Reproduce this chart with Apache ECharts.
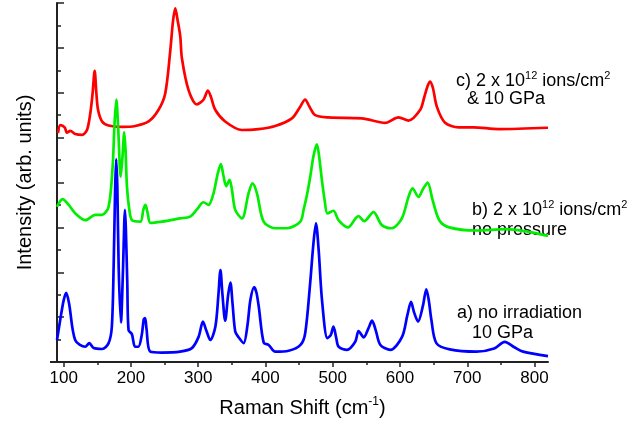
<!DOCTYPE html>
<html>
<head>
<meta charset="utf-8">
<script src="https://cdn.jsdelivr.net/npm/echarts@6/dist/echarts.min.js"></script>
<style>
  html, body { margin: 0; padding: 0; background: #fff; }
  #chart { width: 640px; height: 428px; }
</style>
</head>
<body>
<div id="chart"></div>
<script>
// x tick labels
const xTicks = [100, 200, 300, 400, 500, 600, 700, 800];
const xMinorTicks = [150, 250, 350, 450, 550, 650, 750];

// a) no irradiation, 10 GPa (blue)
const shiftA = [90, 96, 100, 103.7, 108, 117, 132, 138, 144.6, 157, 166.7, 171.5, 174.2, 176.5, 178, 179.7, 181.7, 185, 188.2, 190, 191, 192.3, 194.5, 196.4, 201.4, 206, 211, 216, 219, 221, 223, 228.6, 246, 273, 290.5, 300.5, 307, 312, 318, 325.5, 330, 333, 336, 340, 344.5, 347.8, 351, 355, 360, 367.5, 373, 377.5, 383, 386.5, 390, 397.3, 404.7, 414.6, 434.4, 452, 459, 466.4, 471, 475, 479, 484, 492, 497, 501, 505, 508.6, 521, 533.4, 538.4, 546, 553, 558.4, 564, 570.8, 585.6, 603, 611, 616.4, 621, 626.8, 634, 639.1, 643, 646.6, 654, 674, 713.6, 740, 755.7, 770, 783, 820];
const intensityA = [0.49, 1.05, 1.38, 1.54, 1.3, 0.49, 0.34, 0.42, 0.31, 0.29, 0.42, 0.78, 2.12, 3.9, 4.52, 3.9, 2.1, 0.88, 2.1, 3.1, 3.39, 3.0, 1.76, 0.71, 0.62, 0.34, 0.34, 0.6, 0.95, 0.98, 0.75, 0.23, 0.21, 0.23, 0.31, 0.56, 0.9, 0.7, 0.49, 0.79, 1.5, 2.05, 1.5, 0.92, 1.5, 1.77, 1.3, 0.68, 0.55, 0.42, 0.8, 1.38, 1.67, 1.55, 1.23, 0.43, 0.38, 0.23, 0.25, 0.38, 0.64, 1.76, 2.6, 3.09, 2.5, 1.38, 0.53, 0.6, 0.79, 0.55, 0.34, 0.27, 0.45, 0.69, 0.55, 0.75, 0.92, 0.7, 0.38, 0.27, 0.56, 1.05, 1.34, 1.1, 0.9, 1.25, 1.62, 1.35, 0.94, 0.42, 0.28, 0.23, 0.3, 0.45, 0.33, 0.23, 0.13];

// b) 2 x 10^12 ions/cm^2, no pressure (green)
const shiftB = [90, 98.4, 107.4, 117.3, 132.2, 147, 157, 166.7, 172.7, 175.5, 178.2, 181, 184.7, 187.5, 190, 192, 194, 197.5, 201.6, 214, 218.5, 221.5, 225, 228.9, 246, 273, 288, 298, 307.8, 315.2, 322.7, 329, 333.6, 337.5, 341.6, 346.5, 350, 355, 365, 374.8, 380.7, 387.3, 397.2, 414.6, 432, 451.8, 456.6, 462, 466.5, 471.5, 476.4, 480, 483.8, 488, 492.2, 501, 508.5, 522.4, 538.2, 546.7, 560.5, 573, 587.8, 602.7, 612.6, 618.6, 627.4, 634, 641, 648.4, 658.4, 673.2, 712.9, 757.5, 820];
const intensityB = [3.46, 3.63, 3.5, 3.31, 3.16, 3.28, 3.28, 3.46, 4.35, 5.3, 5.85, 5.2, 4.13, 4.6, 5.12, 4.7, 3.91, 3.4, 3.16, 3.13, 3.4, 3.5, 3.3, 3.1, 3.13, 3.2, 3.24, 3.4, 3.56, 3.5, 3.76, 4.2, 4.41, 4.15, 3.92, 4.06, 3.85, 3.39, 3.2, 3.76, 3.98, 3.76, 3.13, 2.98, 2.98, 3.13, 3.39, 3.75, 4.13, 4.6, 4.85, 4.55, 4.06, 3.6, 3.31, 3.37, 3.16, 3.0, 3.25, 3.14, 3.34, 3.05, 2.98, 3.2, 3.68, 3.87, 3.68, 3.85, 4.0, 3.61, 3.16, 3.0, 2.93, 2.96, 2.81];

// c) 2 x 10^12 ions/cm^2 & 10 GPa (red)
const shiftC = [91.5, 95, 101.4, 104.8, 109.8, 117.2, 127.2, 134.6, 139.5, 143, 146, 148.5, 151, 157, 166.7, 186.6, 206.4, 226.2, 241, 251, 258.5, 262.5, 265.8, 269.5, 273.3, 275.7, 285.6, 298, 308, 314.3, 319, 325.2, 340, 364.9, 389.6, 414.4, 439.2, 451.6, 459, 465, 474, 493.7, 543.4, 578, 597.8, 612.6, 630, 636, 641, 644.8, 649, 654.7, 667, 686.9, 709, 746.3, 820];
const intensityC = [5.1, 5.28, 5.23, 5.11, 5.15, 5.08, 5.06, 5.17, 5.54, 6.0, 6.49, 6.0, 5.62, 5.36, 5.27, 5.24, 5.26, 5.36, 5.62, 5.99, 6.95, 7.6, 7.88, 7.6, 7.25, 6.77, 6.06, 5.74, 5.85, 6.05, 5.9, 5.62, 5.36, 5.17, 5.19, 5.26, 5.43, 5.69, 5.85, 5.7, 5.5, 5.45, 5.43, 5.33, 5.45, 5.38, 5.62, 5.9, 6.15, 6.25, 6.1, 5.69, 5.33, 5.23, 5.23, 5.19, 5.22];

function zip(xs, ys) { return xs.map((x, i) => [x, ys[i]]); }

const FONT = '"Liberation Sans", Arial, sans-serif';
const chart = echarts.init(document.getElementById('chart'), null, { renderer: 'canvas' });

const annot = (x, y, text) => ({
  type: 'text', left: x, top: y,
  style: {
    text: text, fill: '#000', font: '18px ' + FONT,
    textVerticalAlign: 'middle',
    rich: {
      n: { fontSize: 18, fontFamily: FONT, fill: '#000', lineHeight: 22 },
      s: { fontSize: 11, fontFamily: FONT, fill: '#000', lineHeight: 11, verticalAlign: 'top' }
    }
  }
});

const option = {
  animation: false,
  backgroundColor: '#fff',
  grid: { left: 57, right: 92, top: 3, bottom: 66 },
  xAxis: [{
    type: 'value', min: 90, max: 820,
    name: '{n|Raman Shift (cm}{s|-1}{n|)}',
    nameLocation: 'middle', nameGap: 34,
    nameTextStyle: {
      rich: {
        n: { fontSize: 20, fontFamily: FONT, color: '#000', lineHeight: 24 },
        s: { fontSize: 12, fontFamily: FONT, color: '#000', lineHeight: 12, verticalAlign: 'top' }
      }
    },
    axisLine: { show: true, lineStyle: { color: '#222', width: 2 } },
    axisTick: { show: true, inside: false, length: 5, customValues: xTicks, lineStyle: { color: '#222', width: 1.5 } },
    axisLabel: { show: true, customValues: xTicks, margin: 8, fontSize: 17, fontFamily: FONT, color: '#000' },
    splitLine: { show: false }
  }, {
    type: 'value', min: 90, max: 820, position: 'bottom',
    axisLine: { show: false },
    axisTick: { show: true, inside: false, length: 3, customValues: xMinorTicks, lineStyle: { color: '#222', width: 1.5 } },
    axisLabel: { show: false },
    splitLine: { show: false }
  }],
  yAxis: {
    type: 'value', min: 0, max: 8, interval: 1,
    name: 'Intensity (arb. units)', nameLocation: 'middle', nameGap: 22,
    nameTextStyle: { fontSize: 20, fontFamily: FONT, color: '#000' },
    axisLine: { show: true, lineStyle: { color: '#222', width: 2 } },
    axisTick: { show: true, inside: true, length: 7, lineStyle: { color: '#222', width: 1.5 } },
    minorTick: { show: true, splitNumber: 2, length: 4, lineStyle: { color: '#222', width: 1.5 } },
    axisLabel: { show: false },
    splitLine: { show: false }
  },
  series: [
    { type: 'line', data: zip(shiftA, intensityA), smooth: 0.3, showSymbol: false, lineStyle: { color: '#0000ff', width: 2.7 }, z: 3 },
    { type: 'line', data: zip(shiftB, intensityB), smooth: 0.3, showSymbol: false, lineStyle: { color: '#00ee00', width: 2.7 }, z: 2 },
    { type: 'line', data: zip(shiftC, intensityC), smooth: 0.3, showSymbol: false, lineStyle: { color: '#ff0000', width: 2.7 }, z: 1 }
  ],
  graphic: [
    { type: 'line', shape: { x1: 50, y1: 362, x2: 57, y2: 362 }, style: { stroke: '#222', lineWidth: 2 } },
    annot(456, 70, '{n|c) 2 x 10}{s|12}{n| ions/cm}{s|2}'),
    annot(467, 90, '{n|& 10 GPa}'),
    annot(472, 199, '{n|b) 2 x 10}{s|12}{n| ions/cm}{s|2}'),
    annot(472, 221, '{n|no pressure}'),
    annot(457, 304, '{n|a) no irradiation}'),
    annot(472, 324, '{n|10 GPa}')
  ]
};
chart.setOption(option);
</script>
</body>
</html>
